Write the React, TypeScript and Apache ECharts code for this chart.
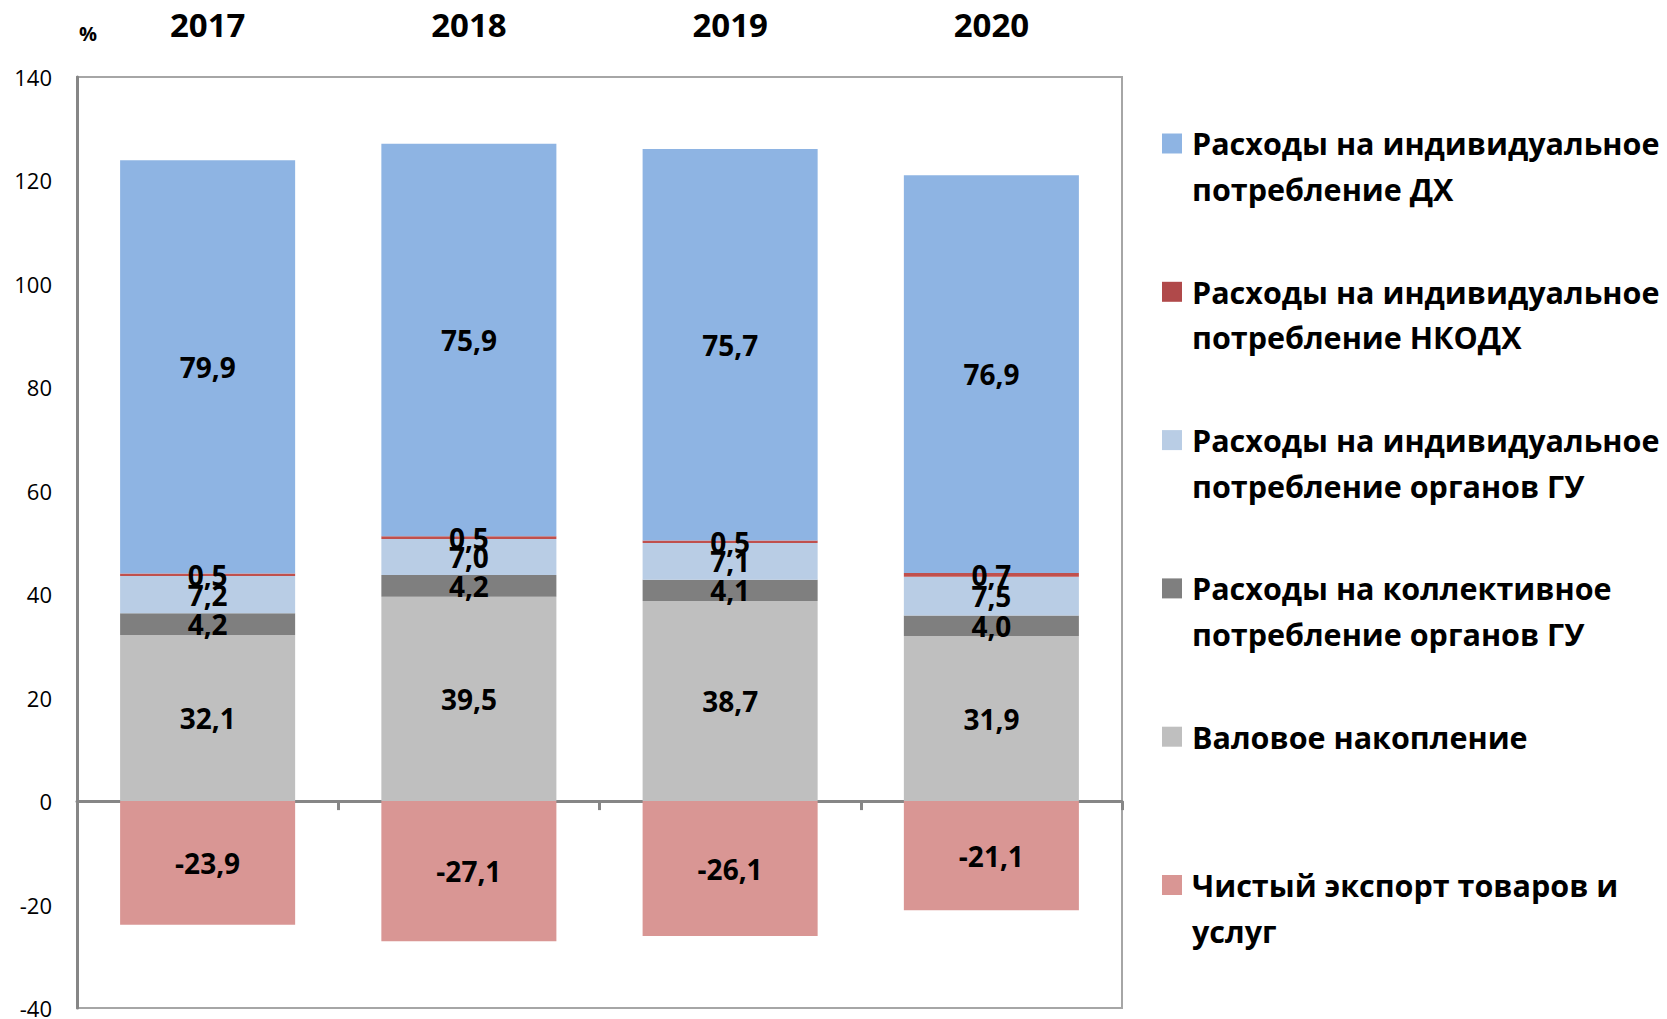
import React, { useEffect, useRef } from "react";
import * as echarts from "echarts";

const years = ["2017", "2018", "2019", "2020"];

const legendNames = [
  "Расходы на индивидуальное\nпотребление ДХ",
  "Расходы на индивидуальное\nпотребление НКОДХ",
  "Расходы на индивидуальное\nпотребление органов ГУ",
  "Расходы на коллективное\nпотребление органов ГУ",
  "Валовое накопление",
  "Чистый экспорт товаров и\nуслуг",
];
const legendColors = ["#8EB4E3", "#B0494A", "#B9CDE5", "#7F7F7F", "#BFBFBF", "#D99694"];

const hhIndividual = [79.9, 75.9, 75.7, 76.9];
const npishIndividual = [0.5, 0.5, 0.5, 0.7];
const govIndividual = [7.2, 7.0, 7.1, 7.5];
const govCollective = [4.2, 4.2, 4.1, 4.0];
const grossCapital = [32.1, 39.5, 38.7, 31.9];
const netExports = [-23.9, -27.1, -26.1, -21.1];

const yMin = -40;
const yMax = 140;
const yStep = 20;

const FONT = "'Open Sans', 'Noto Sans', sans-serif";

export default function App() {
  const ref = useRef<HTMLDivElement>(null);

  useEffect(() => {
    if (!ref.current) return;
    const chart = echarts.init(ref.current, undefined, { renderer: "svg" });

    const fmt = (p: any) => Number(p.value).toFixed(1).replace(".", ",");
    const label = {
      show: true,
      position: "inside",
      formatter: fmt,
      color: "#000",
      fontFamily: FONT,
      fontWeight: "bold",
      fontSize: 28,
      textBorderWidth: 0,
    };

    // stacking order bottom -> top: gross capital, collective, gov individual, NPISH, HH
    const stackData = [
      { name: legendNames[4], data: grossCapital, color: legendColors[4] },
      { name: legendNames[3], data: govCollective, color: legendColors[3] },
      { name: legendNames[2], data: govIndividual, color: "#B9CDE5" },
      { name: legendNames[1], data: npishIndividual, color: "#C0504D" },
      { name: legendNames[0], data: hhIndividual, color: legendColors[0] },
      { name: legendNames[5], data: netExports, color: legendColors[5] },
    ];

    const series = stackData.map((s) => ({
      type: "bar",
      name: s.name,
      stack: "total",
      data: s.data,
      barCategoryGap: "33%",
      itemStyle: { color: s.color },
      label,
      emphasis: { disabled: true },
    }));

    const legendTop = 143.5;
    const legendStep = 148.3;
    const legendGraphics = legendNames.map((n, i) => ({
      type: "group",
      x: 1162,
      y: legendTop + i * legendStep,
      children: [
        { type: "rect", shape: { x: 0, y: -10, width: 20, height: 20 }, style: { fill: legendColors[i] } },
        {
          type: "text",
          x: 30,
          y: -22.85,
          style: {
            text: n,
            fill: "#000",
            font: `bold 30.5px ${FONT}`,
            lineHeight: 45.7,
            verticalAlign: "top",
            align: "left",
          },
        },
      ],
    }));

    chart.setOption({
      animation: false,
      backgroundColor: "#fff",
      grid: {
        left: 77,
        top: 77,
        width: 1045,
        height: 933,
        show: true,
        borderColor: "#A6A6A6",
        borderWidth: 2,
        containLabel: false,
      },
      xAxis: [
        {
          type: "category",
          data: years,
          axisLine: { show: true, onZero: true, lineStyle: { color: "#868686", width: 3 } },
          axisTick: { show: true, length: 9, lineStyle: { color: "#868686", width: 3 } },
          axisLabel: { show: false },
          splitLine: { show: false },
        },
        {
          type: "category",
          data: years,
          position: "top",
          axisLine: { show: false },
          axisTick: { show: false },
          axisLabel: {
            show: true,
            margin: 36,
            color: "#000",
            fontFamily: FONT,
            fontWeight: "bold",
            fontSize: 33,
          },
          splitLine: { show: false },
        },
      ],
      yAxis: {
        type: "value",
        min: yMin,
        max: yMax,
        interval: yStep,
        name: "%",
        nameLocation: "end",
        nameGap: 44,
        nameTextStyle: {
          color: "#000",
          fontFamily: FONT,
          fontWeight: "bold",
          fontSize: 20,
          align: "left",
          verticalAlign: "middle",
          padding: [0, 0, 0, 2],
        },
        axisLine: { show: true, onZero: false, lineStyle: { color: "#868686", width: 3 } },
        axisTick: { show: false },
        splitLine: { show: false },
        axisLabel: {
          color: "#000",
          fontFamily: FONT,
          fontSize: 22,
          margin: 25,
        },
      },
      series,
      graphic: legendGraphics,
    });

    return () => chart.dispose();
  }, []);

  return (
    <div
      ref={ref}
      style={{ position: "absolute", left: 0, top: 0, width: 1667, height: 1019 }}
    />
  );
}
